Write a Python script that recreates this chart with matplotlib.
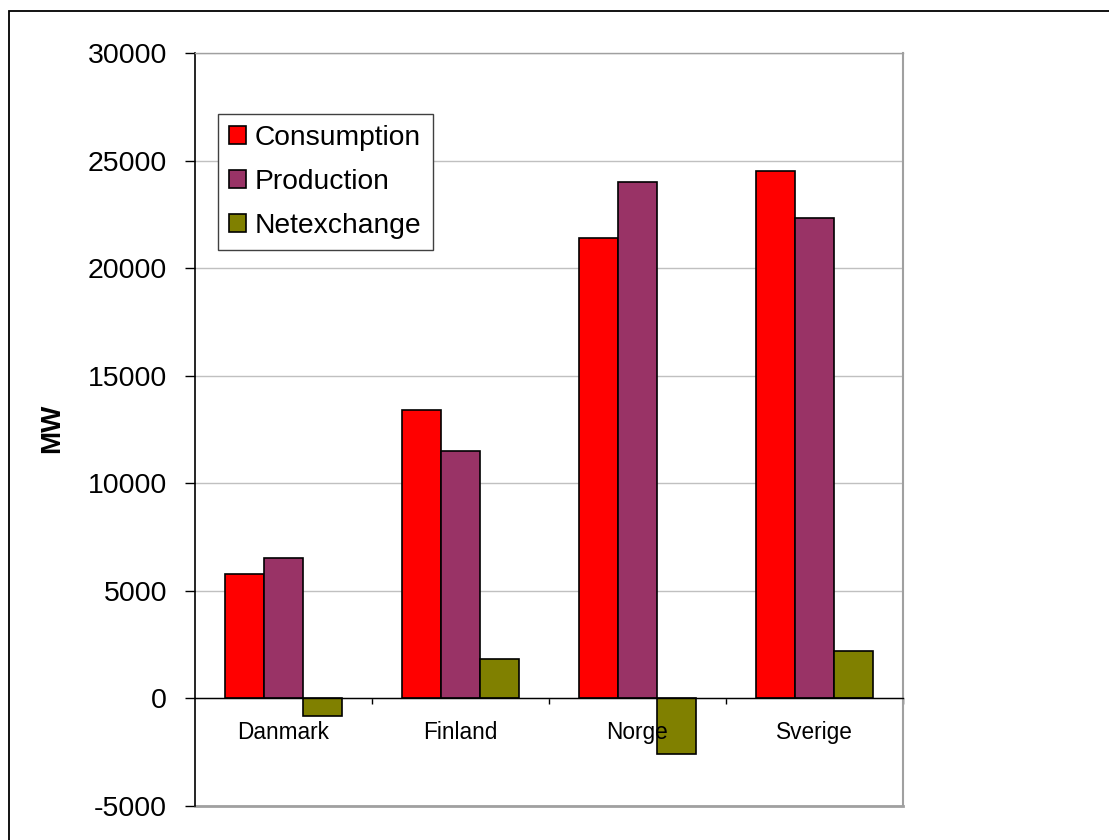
import matplotlib
matplotlib.use("Agg")
import matplotlib.pyplot as plt
import numpy as np
from matplotlib.patches import Rectangle
from matplotlib.ticker import FixedLocator, MultipleLocator

plt.rcParams['font.family'] = ['Liberation Sans', 'DejaVu Sans']
plt.rcParams['axes.unicode_minus'] = False

countries = ["Danmark", "Finland", "Norge", "Sverige"]
consumption = [5800, 13400, 21400, 24500]
production = [6550, 11500, 24000, 22350]
netexchange = [-800, 1850, -2600, 2200]
series_names = ["Consumption", "Production", "Netexchange"]
colors = ["#FF0000", "#993366", "#808000"]

W, H = 1109, 840
fig = plt.figure(figsize=(W / 100, H / 100), dpi=100)

# outer frame (extends beyond the right and bottom edges)
fig.patches.append(Rectangle((9 / W, -0.2), 1.2, 1 - 11 / H + 0.2, transform=fig.transFigure,
                             fill=False, edgecolor="black", linewidth=1.3))

ax = fig.add_axes([195 / W, 1 - 806 / H, (903 - 195) / W, (806 - 53) / H])

x = np.arange(len(countries))
bw = 0.222
for i, (vals, name, c) in enumerate(zip([consumption, production, netexchange], series_names, colors)):
    ax.bar(x + (i - 1) * bw, vals, width=bw, color=c, edgecolor="black", linewidth=1.2,
           label=name, zorder=3)

ax.set_xlim(-0.5, len(countries) - 0.5)
ax.set_ylim(-5000, 30000)
ax.yaxis.set_major_locator(MultipleLocator(5000))
ax.grid(axis="y", color="#c0c0c0", linewidth=1.0, zorder=0)
ax.set_axisbelow(True)

# spines
ax.spines["left"].set_color("black")
ax.spines["left"].set_linewidth(1.2)
ax.spines["top"].set_color("#a0a0a0")
ax.spines["right"].set_color("#a0a0a0")
ax.spines["right"].set_linewidth(1.5)
ax.spines["top"].set_linewidth(1.0)
ax.spines["bottom"].set_position(("data", 0))
ax.spines["bottom"].set_color("black")
ax.spines["bottom"].set_linewidth(1.0)
ax.spines["bottom"].set_zorder(4)
# plot area bottom border
ax.axhline(-5000, color="#a0a0a0", linewidth=2.0, clip_on=False, zorder=1)

# x ticks: marks at category boundaries
ax.xaxis.set_major_locator(FixedLocator(np.arange(len(countries)) + 0.5))
ax.set_xticklabels([""] * len(countries))
ax.tick_params(axis="x", which="major", direction="out", length=4.5, width=1.0, color="black")

# category labels just below the zero line, drawn above the bars
for xi, name in zip(x, countries):
    ax.annotate(name, xy=(xi, 0), xycoords="data", xytext=(0, -24.5), textcoords="offset points",
                ha="center", va="center", fontsize=16.3, zorder=6, annotation_clip=False)

ax.tick_params(axis="y", direction="out", length=7, width=1.0, pad=13, labelsize=20.5, color="black")

fig.text(52 / W, 1 - 428 / H, "MW", rotation=90, ha="center", va="center",
         fontsize=20, fontweight="bold")

leg = ax.legend(loc="upper left", bbox_to_anchor=((218 - 195) / 708, (806 - 114) / 753),
                borderaxespad=0, fontsize=20.3, frameon=True, fancybox=False,
                handlelength=0.6, handleheight=0.6, handletextpad=0.3,
                labelspacing=0.63, borderpad=0.4)
leg.get_frame().set_edgecolor("#404040")
leg.get_frame().set_linewidth(1.0)
leg.get_frame().set_alpha(1)

fig.savefig("out.png", dpi=100)
